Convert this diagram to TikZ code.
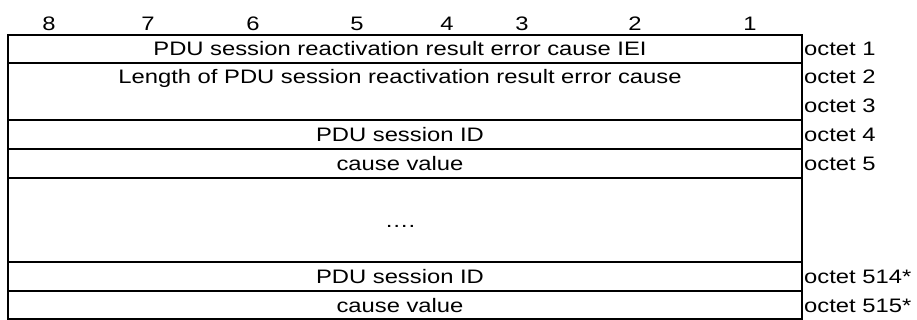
\documentclass[tikz,border=0pt]{standalone}
\usepackage{fontspec}
\setmainfont[FakeStretch=1.22]{Liberation Sans}
\begin{document}
\begin{tikzpicture}[x=1pt,y=-1pt,
  tbl/.style={line width=2pt},
  txt/.style={anchor=base,inner sep=0pt,font=\fontsize{19.5}{23}\selectfont},
  oct/.style={anchor=base west,inner sep=0pt,font=\fontsize{19.5}{23}\selectfont}]
\useasboundingbox (0,0) rectangle (917,320);
% table lines
\draw[tbl] (8,35) rectangle (802,319);
\foreach \y in {63,120,149,178,262,291} \draw[tbl] (8,\y) -- (802,\y);
% bit numbers
\foreach \n/\x in {8/49,7/148,6/253,5/357,4/447,3/522,2/635,1/750}
  \node[txt] (b\n) at (\x,31) {\n};
% field texts
\node[txt] (f1) at (400,56) {PDU session reactivation result error cause IEI};
\node[txt] (f2) at (400,84) {Length of PDU session reactivation result error cause};
\node[txt] (f4) at (400,141.5) {PDU session ID};
\node[txt] (f5) at (400,170.5) {cause value};
\node[txt] (fd) at (400,227) {….};
\node[txt] (f514) at (400,283.5) {PDU session ID};
\node[txt] (f515) at (400,312) {cause value};
% octet labels
\node[oct] (o1) at (804,56) {octet 1};
\node[oct] (o2) at (804,84) {octet 2};
\node[oct] (o3) at (804,113) {octet 3};
\node[oct] (o4) at (804,141.5) {octet 4};
\node[oct] (o5) at (804,170.5) {octet 5};
\node[oct] (o514) at (804,283.5) {octet 514*};
\node[oct] (o515) at (804,312) {octet 515*};
\end{tikzpicture}
\end{document}
